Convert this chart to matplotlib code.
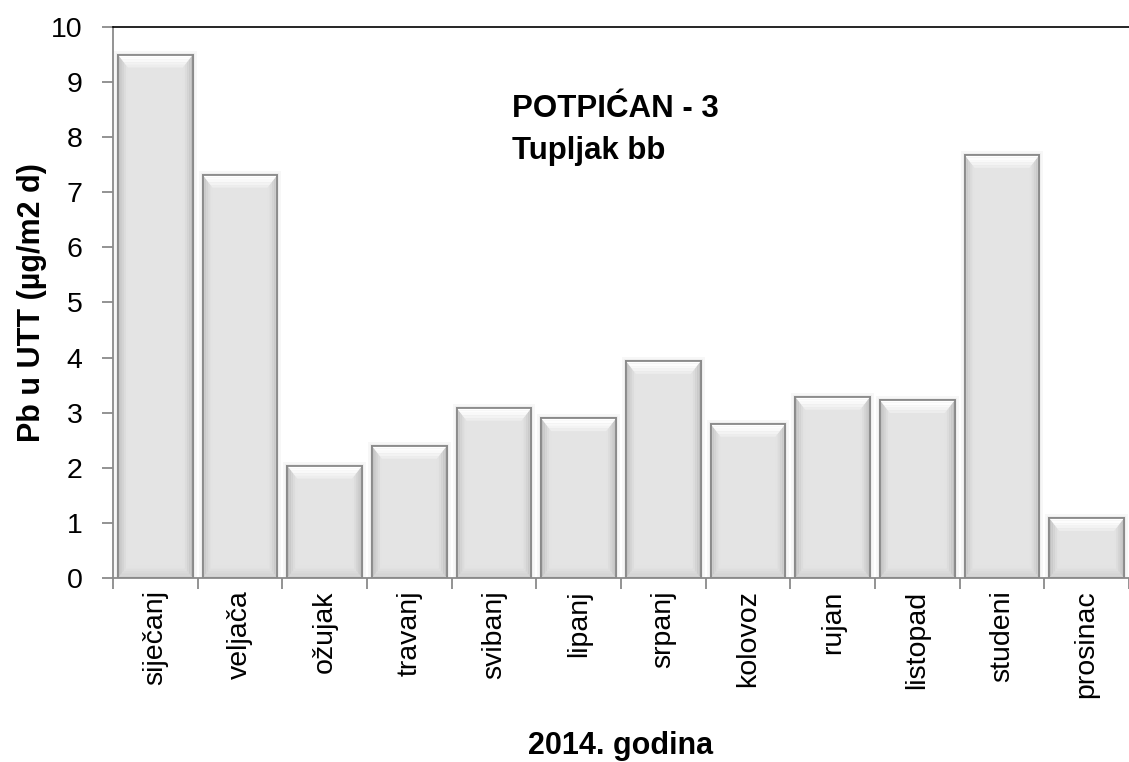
import matplotlib
matplotlib.use("Agg")
import matplotlib.pyplot as plt
from matplotlib.patches import Polygon
import numpy as np

months = ["siječanj", "veljača", "ožujak", "travanj", "svibanj", "lipanj",
          "srpanj", "kolovoz", "rujan", "listopad", "studeni", "prosinac"]
values = [9.5, 7.32, 2.04, 2.40, 3.09, 2.90, 3.94, 2.80, 3.29, 3.23, 7.68, 1.09]
yticks = [0, 1, 2, 3, 4, 5, 6, 7, 8, 9, 10]

plt.rcParams['font.family'] = ['Liberation Sans', 'DejaVu Sans']

fig = plt.figure(figsize=(11.29, 7.62), dpi=100)
ax = fig.add_axes([0.1001, 0.2415, 0.8999, 0.7231])

x = np.arange(len(months))
ax.set_xlim(-0.5, len(months) - 0.5)
ax.set_ylim(0, 10)

bars = ax.bar(x, values, width=0.885, color="#e4e4e4", edgecolor="#8a8a8a",
              linewidth=1.3, zorder=2)

# pixel -> data conversions for bevel
p0 = ax.transData.transform((0, 0))
p1 = ax.transData.transform((1, 1))
pxx = p1[0] - p0[0]
pxy = p1[1] - p0[1]

def bevel(bar):
    x0 = bar.get_x()
    w = bar.get_width()
    h = bar.get_height()
    x1 = x0 + w
    dxs = 10 / pxx
    dyt = 13 / pxy
    dyb = 12 / pxy
    # soft shadow
    for k, col in [(4, "#f7f7f7"), (2, "#eeeeee")]:
        sx = k / pxx
        ax.add_patch(Polygon([(x0 - sx, 0), (x1 + sx, 0), (x1 + sx, h + k / pxy),
                              (x0 - sx, h + k / pxy)],
                             closed=True, facecolor=col, edgecolor="none", zorder=1))
    nb = 5
    # bottom bevel gradient
    for i in range(nb):
        f0 = i / nb
        f1 = (i + 1) / nb
        c = 0.80 + 0.09 * f1
        ax.add_patch(Polygon([(x0 + dxs * f0, dyb * f0), (x1 - dxs * f0, dyb * f0),
                              (x1 - dxs * f1, dyb * f1), (x0 + dxs * f1, dyb * f1)],
                             closed=True, facecolor=(c, c, c), edgecolor="none", zorder=2.5))
    # side bevels
    for i in range(nb):
        f0 = i / nb
        f1 = (i + 1) / nb
        c = 0.66 + 0.23 * f1 ** 0.6
        col = (c, c, c)
        ax.add_patch(Polygon([(x0 + dxs * f0, dyb * f0), (x0 + dxs * f1, dyb * f1),
                              (x0 + dxs * f1, h - dyt * f1), (x0 + dxs * f0, h - dyt * f0)],
                             closed=True, facecolor=col, edgecolor="none", zorder=2.5))
        ax.add_patch(Polygon([(x1 - dxs * f0, dyb * f0), (x1 - dxs * f1, dyb * f1),
                              (x1 - dxs * f1, h - dyt * f1), (x1 - dxs * f0, h - dyt * f0)],
                             closed=True, facecolor=col, edgecolor="none", zorder=2.5))
    # top bevel (white -> grey)
    for i in range(nb):
        f0 = i / nb
        f1 = (i + 1) / nb
        c = 1.0 - 0.10 * f0 ** 1.5
        col = (c, c, c)
        ax.add_patch(Polygon([(x0 + dxs * f0, h - dyt * f0), (x1 - dxs * f0, h - dyt * f0),
                              (x1 - dxs * f1, h - dyt * f1), (x0 + dxs * f1, h - dyt * f1)],
                             closed=True, facecolor=col, edgecolor="none", zorder=2.6))
    ax.add_patch(Polygon([(x0, 0), (x1, 0), (x1, h), (x0, h)], closed=True,
                         facecolor="none", edgecolor="#8a8a8a", linewidth=1.3, zorder=3))

for b in bars:
    bevel(b)

ax.set_yticks(yticks)
ax.set_yticklabels([str(t) for t in yticks], fontsize=20.5)
ax.set_xticks(x)
ax.set_xticklabels(months, rotation=90, fontsize=20.5)
ax.tick_params(axis='x', length=0, pad=9)
ax.set_xticks(np.arange(-0.5, len(months) + 0.5, 1), minor=True)
ax.tick_params(axis='x', which='minor', length=8, width=1.3, color="#8a8a8a", direction='out')
ax.tick_params(axis='y', length=8, width=1.3, color="#8a8a8a", direction='out', pad=14)

for s in ["left", "bottom"]:
    ax.spines[s].set_color("#8a8a8a")
    ax.spines[s].set_linewidth(1.3)
ax.spines["top"].set_color("black")
ax.spines["top"].set_linewidth(1.2)
ax.spines["right"].set_visible(False)

ax.set_ylabel("Pb u UTT (µg/m2 d)", fontsize=22, fontweight="bold", labelpad=3)
ax.set_xlabel("2014. godina", fontsize=22, fontweight="bold", labelpad=24)

ax.text(0.393, 0.837, "POTPIĆAN - 3", transform=ax.transAxes,
        fontsize=22.5, fontweight="bold", va="baseline", ha="left")
ax.text(0.393, 0.760, "Tupljak bb", transform=ax.transAxes,
        fontsize=22.5, fontweight="bold", va="baseline", ha="left")

fig.savefig("out.png", dpi=100)
